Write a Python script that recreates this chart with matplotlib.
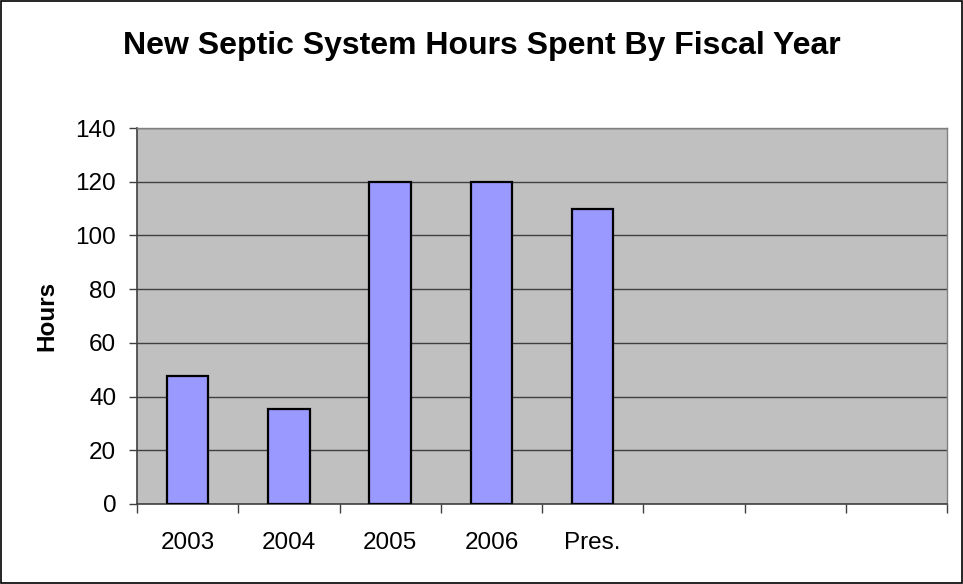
import matplotlib
matplotlib.use("Agg")
import matplotlib.pyplot as plt
import numpy as np

# data
categories = ["2003", "2004", "2005", "2006", "Pres."]
hours = [47.5, 35.5, 120, 120, 110]
n_slots = 8  # chart has three empty category slots on the right
y_ticks = [0, 20, 40, 60, 80, 100, 120, 140]

plt.rcParams['font.family'] = ['Liberation Sans', 'DejaVu Sans']

fig = plt.figure(figsize=(9.63, 5.84), dpi=100)
ax = fig.add_axes([137/963, 1 - 504/584, (947-137)/963, (504-128)/584])
ax.set_facecolor("#C0C0C0")

x = np.arange(len(categories))
ax.bar(x, hours, width=0.41, color="#9999FF", edgecolor="black", linewidth=1.6, zorder=3)

ax.set_xlim(-0.5, n_slots - 0.5)
ax.set_ylim(0, 140)
ax.set_yticks(y_ticks)
ax.yaxis.grid(True, color="#404040", linewidth=1.0, zorder=0)
ax.set_axisbelow(True)

# ticks between categories, labels centred on categories
ax.set_xticks(np.arange(n_slots + 1) - 0.5)
ax.set_xticklabels([])
ax.set_xticks(x, minor=True)
ax.set_xticklabels(categories, minor=True)
ax.tick_params(axis="x", which="major", length=6.5, width=1, color="#404040", direction="out")
ax.tick_params(axis="x", which="minor", length=0, pad=20.5, labelsize=17.5)
ax.tick_params(axis="y", length=6, width=1, color="#404040", labelsize=17.5, pad=9)

for side in ["top", "right"]:
    ax.spines[side].set_color("#808080")
    ax.spines[side].set_linewidth(1.0)
for side in ["left", "bottom"]:
    ax.spines[side].set_color("#404040")
    ax.spines[side].set_linewidth(1.2)

ax.set_ylabel("Hours", fontsize=17.5, fontweight="bold", labelpad=12)
fig.text(0.5, 1 - 46/584, "New Septic System Hours Spent By Fiscal Year",
         ha="center", va="center", fontsize=23, fontweight="bold")

# outer chart border
fig.patches.append(plt.Rectangle((0.001, 0.001), 0.998, 0.997, transform=fig.transFigure,
                                 fill=False, edgecolor="black", linewidth=1.2))

fig.savefig("out.png", dpi=100)
